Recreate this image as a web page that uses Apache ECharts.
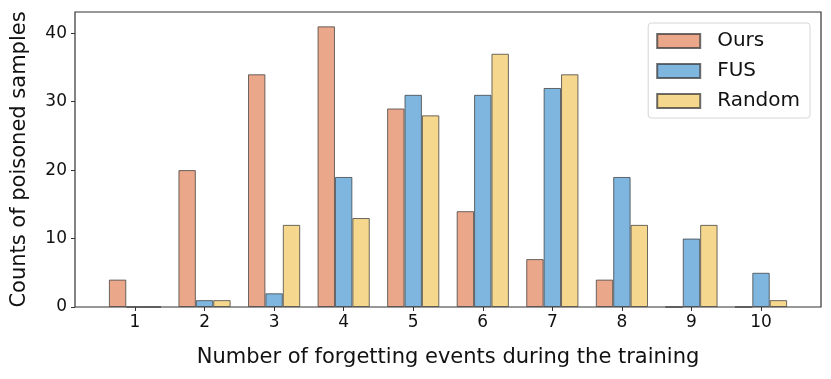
<!DOCTYPE html>
<html>
<head>
<meta charset="utf-8">
<script src="https://cdn.jsdelivr.net/npm/echarts@6/dist/echarts.min.js"></script>
<style>
  html, body { margin: 0; padding: 0; background: #fff; }
  #chart { width: 831px; height: 379px; }
</style>
</head>
<body>
<div id="chart"></div>
<script>
// 数据
const categories = ['1', '2', '3', '4', '5', '6', '7', '8', '9', '10']
const ours = [4, 20, 34, 41, 29, 14, 7, 4, 0, 0]
const fus = [0, 1, 2, 19, 31, 31, 32, 19, 10, 5]
const random = [0, 1, 12, 13, 28, 37, 34, 12, 12, 1]
const yTicks = [0, 10, 20, 30, 40]

const font = 'DejaVu Sans'
const edge = 'rgba(60,60,60,0.75)'

const makeBar = (name, data, color) => ({
  name: name,
  type: 'bar',
  data: data,
  xAxisIndex: 0,
  yAxisIndex: 0,
  barWidth: 17.4,
  barGap: '0%',
  itemStyle: { color: color, borderColor: edge, borderWidth: 1 }
})

const myChart = echarts.init(document.getElementById('chart'), null, { renderer: 'canvas' })
myChart.setOption({
  animation: false,
  textStyle: { fontFamily: font },
  grid: [
    // 放柱子的网格
    { left: 100.2, right: 35.2, top: 12, bottom: 72 },
    // 外框和 y 轴
    { left: 75, right: 10, top: 12, bottom: 72, show: true, borderColor: '#333', borderWidth: 1.2 }
  ],
  legend: {
    orient: 'vertical',
    right: 21,
    top: 23,
    padding: [8, 10, 7, 8],
    itemWidth: 43,
    itemHeight: 14,
    itemGap: 10,
    icon: 'rect',
    backgroundColor: '#fff',
    borderColor: '#d6d6d6',
    borderWidth: 1,
    borderRadius: 3,
    textStyle: { fontFamily: font, fontSize: 20, color: '#111', padding: [0, 0, 0, 12] },
    data: ['Ours', 'FUS', 'Random']
  },
  xAxis: [
    {
      gridIndex: 0,
      type: 'category',
      data: categories,
      axisLine: { show: false },
      axisTick: { show: true, alignWithLabel: true, length: 4, lineStyle: { color: '#333' } },
      axisLabel: { fontFamily: font, fontSize: 17, color: '#111', margin: 7 },
      name: 'Number of forgetting events during the training',
      nameLocation: 'middle',
      nameGap: 40,
      nameTextStyle: { fontFamily: font, fontSize: 21, color: '#111' }
    },
    { gridIndex: 1, type: 'value', show: false, min: 0, max: 1 }
  ],
  yAxis: [
    { gridIndex: 0, type: 'value', min: 0, max: 43.1, show: false, splitLine: { show: false } },
    {
      gridIndex: 1,
      type: 'value',
      min: 0,
      max: 43.1,
      interval: 10,
      axisLine: { show: false },
      axisTick: { show: true, length: 4, customValues: yTicks, lineStyle: { color: '#333' } },
      splitLine: { show: false },
      axisLabel: {
        fontFamily: font, fontSize: 17, color: '#111', margin: 8,
        customValues: yTicks
      },
      name: 'Counts of poisoned samples',
      nameLocation: 'middle',
      nameGap: 45,
      nameTextStyle: { fontFamily: font, fontSize: 21, color: '#111' }
    }
  ],
  series: [
    makeBar('Ours', ours, '#EBA78A'),
    makeBar('FUS', fus, '#7EB6DF'),
    makeBar('Random', random, '#F5D78D')
  ]
})
</script>
</body>
</html>
